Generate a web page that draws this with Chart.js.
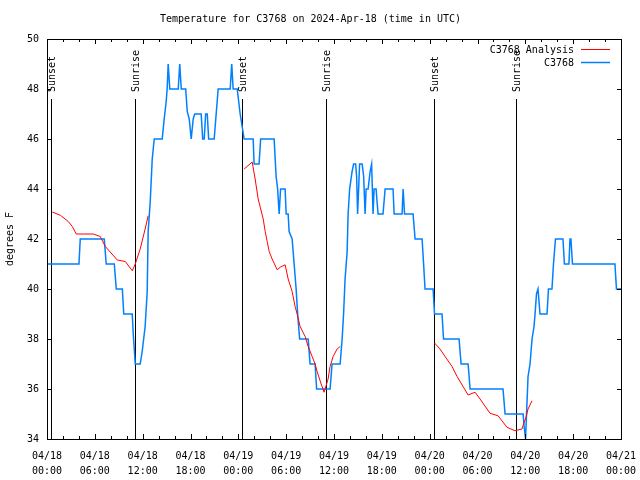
<!DOCTYPE html>
<html>
<head>
<meta charset="utf-8">
<script src="https://cdn.jsdelivr.net/npm/chart.js@4.4.1/dist/chart.umd.min.js"></script>
<style>
  html, body { margin: 0; padding: 0; background: #fff; }
  #wrap { width: 640px; height: 480px; }
</style>
</head>
<body>
<div id="wrap"><canvas id="c" width="640" height="480"></canvas></div>
<script>
// hours since 04/18 00:00 UTC
const obsHours = [0, 4.01, 4.17, 7.18, 7.43, 8.44, 8.69, 9.45, 9.63, 10.69, 10.82, 11.07, 11.69, 11.94, 12.31, 12.57, 12.69, 12.95, 13.2, 13.45,
  14.45, 14.7, 14.95, 15.07, 15.2, 15.4, 16.46, 16.65, 16.84, 17.4, 17.59, 17.84, 18.09, 18.34, 18.53, 19.34, 19.53, 19.72, 19.9, 20.1,
  20.28, 20.97, 21.22, 21.47, 22.98, 23.17, 23.35, 23.86, 24.23, 24.48, 24.73, 25.86, 25.98, 26.6, 26.8, 28.49, 28.74, 28.93, 29.12, 29.3,
  29.87, 30.0, 30.25, 30.37, 30.75, 31.0, 31.25, 31.44, 31.69, 32.76, 33.0, 33.63, 33.82, 35.51, 35.76, 36.77, 37.02, 37.2, 37.39, 37.65,
  37.77, 37.96, 38.27, 38.46, 38.71, 38.84, 38.96, 39.09, 39.21, 39.53, 39.72, 39.9, 40.03, 40.28, 40.53, 40.72, 40.9, 41.03, 41.28, 41.4,
  41.53, 42.15, 42.41, 43.41, 43.54, 44.54, 44.67, 44.85, 45.92, 46.17, 47.05, 47.24, 47.42, 48.43, 48.61, 49.55, 49.74, 51.69, 51.94, 52.82,
  53.07, 57.2, 57.46, 59.72, 59.85, 60.03, 60.15, 60.34, 60.59, 60.84, 61.09, 61.22, 61.4, 61.59, 61.71, 61.84, 62.72, 62.9, 63.34, 63.53,
  63.78, 64.72, 64.9, 65.47, 65.6, 65.72, 65.91, 71.24, 71.43, 72];
const obsTemps = [41, 41, 42, 42, 41, 41, 40, 40, 39, 39, 38.2, 37, 37, 37.5, 38.5, 39.9, 42.3, 43.5, 45.2, 46,
  46, 46.8, 47.5, 48, 49, 48, 48, 49, 48, 48, 47.1, 46.8, 46, 46.8, 47, 47, 46, 46, 47, 47,
  46, 46, 47, 48, 48, 49, 48, 48, 47, 46.5, 46, 46, 45, 45, 46, 46, 44.5, 44, 43, 44,
  44, 43, 43, 42.3, 42, 41, 40, 39, 38, 38, 37, 37, 36, 36, 37, 37, 38, 39, 40.4, 41.5,
  43, 44, 44.7, 45, 45, 44.5, 43, 44, 45, 45, 44.5, 43, 44, 44, 44.7, 45, 43, 44, 44, 43.5,
  43, 43, 44, 44, 43, 43, 44, 43, 43, 42, 42, 41, 40, 40, 39, 39, 38, 38, 37, 37,
  36, 36, 35, 35, 34.5, 34, 35, 36.5, 37, 38, 38.5, 39, 39.8, 40, 40, 39, 39, 40, 40, 41,
  42, 42, 41, 41, 42, 42, 41, 41, 40, 40];

// analysis series, null = no analysis
const anaHours = [0.66, 1.67, 2.67, 3.17, 3.67, 5.8, 6.68, 7.31, 8.82, 9.82, 10.7, 11.07, 11.69, 12.31, 12.69, 18,
  24.73, 25.74, 26.11, 26.49, 27.12, 27.37, 27.62, 27.87, 28.24, 28.87, 29.25, 29.87, 30.25, 30.75, 31.12, 31.38, 31.75,
  32.38, 32.76, 33.26, 33.63, 33.88, 34.39, 34.76, 35.26, 35.51, 35.89, 36.39, 36.77, 42,
  48.61, 49.3, 49.93, 50.81, 51.44, 52.19, 52.82, 53.69, 54.32, 55.57, 56.57, 57.7, 58.7, 59.58, 59.7, 60.08, 60.34, 60.84];
const anaTemps = [43.08, 42.95, 42.7, 42.5, 42.2, 42.2, 42.1, 41.7, 41.16, 41.1, 40.73, 41.0, 41.6, 42.4, 42.93, null,
  44.8, 45.08, 44.4, 43.6, 42.8, 42.3, 41.9, 41.5, 41.2, 40.77, 40.87, 40.97, 40.4, 39.9, 39.3, 39.0, 38.5,
  38.1, 37.7, 37.3, 37.0, 36.7, 36.2, 35.87, 36.4, 36.9, 37.3, 37.6, 37.7, null,
  37.84, 37.6, 37.3, 36.9, 36.5, 36.1, 35.76, 35.87, 35.6, 35.03, 34.93, 34.47, 34.33, 34.4, 34.53, 34.87, 35.2, 35.53];

const sunHours = [0.48, 10.98, 24.52, 34.97, 48.59, 58.87];
const sunLabels = ['Sunset', 'Sunrise', 'Sunset', 'Sunrise', 'Sunset', 'Sunrise'];

const xTickDates = ['04/18', '04/18', '04/18', '04/18', '04/19', '04/19', '04/19', '04/19', '04/20', '04/20', '04/20', '04/20', '04/21'];
const xTickTimes = ['00:00', '06:00', '12:00', '18:00', '00:00', '06:00', '12:00', '18:00', '00:00', '06:00', '12:00', '18:00', '00:00'];

const FONT = 'DejaVu Sans Mono';
Chart.defaults.font.family = FONT;
Chart.defaults.font.size = 10;
Chart.defaults.color = '#000';

// gnuplot-ish frame, inward ticks, sunrise/sunset markers, legend
const gnuDeco = {
  id: 'gnuDeco',
  beforeDatasetsDraw(chart) {
    const { ctx, chartArea: a, scales: { x } } = chart;
    ctx.save();
    ctx.strokeStyle = '#000';
    ctx.lineWidth = 1;
    ctx.fillStyle = '#000';
    ctx.font = '10px ' + FONT;
    sunHours.forEach((h, i) => {
      const px = Math.round(x.getPixelForValue(h)) + 0.5;
      ctx.beginPath();
      ctx.moveTo(px, a.top + 60);
      ctx.lineTo(px, a.bottom);
      ctx.stroke();
      ctx.save();
      ctx.translate(px + 1, a.top + 53);
      ctx.rotate(-Math.PI / 2);
      ctx.textAlign = 'left';
      ctx.textBaseline = 'middle';
      ctx.fillText(sunLabels[i], 0, 0);
      ctx.restore();
    });
    ctx.restore();
  },
  afterDatasetsDraw(chart) {
    const { ctx, chartArea: a, scales: { x, y } } = chart;
    ctx.save();
    ctx.strokeStyle = '#000';
    ctx.lineWidth = 1;
    ctx.strokeRect(Math.round(a.left) + 0.5, Math.round(a.top) + 0.5, Math.round(a.width), Math.round(a.height));
    ctx.beginPath();
    for (let h = 0; h <= 72; h += 2) {
      const px = Math.round(x.getPixelForValue(h)) + 0.5;
      const len = h % 6 === 0 ? 5 : 3;
      ctx.moveTo(px, a.bottom); ctx.lineTo(px, a.bottom - len);
      ctx.moveTo(px, a.top); ctx.lineTo(px, a.top + len);
    }
    y.ticks.forEach(t => {
      const py = Math.round(y.getPixelForValue(t.value)) + 0.5;
      ctx.moveTo(a.left, py); ctx.lineTo(a.left + 4, py);
      ctx.moveTo(a.right, py); ctx.lineTo(a.right - 4, py);
    });
    ctx.stroke();

    // legend, top right inside plot
    ctx.font = '10px ' + FONT;
    ctx.textAlign = 'right';
    ctx.textBaseline = 'middle';
    chart.data.datasets.forEach((ds, i) => {
      const ly = a.top + 10.5 + i * 13;
      ctx.fillStyle = '#000';
      ctx.fillText(ds.label, a.right - 47, ly + 0.5);
      ctx.strokeStyle = ds.borderColor;
      ctx.lineWidth = ds.borderWidth;
      ctx.beginPath();
      ctx.moveTo(a.right - 40, ly);
      ctx.lineTo(a.right - 11, ly);
      ctx.stroke();
    });
    ctx.restore();
  }
};

new Chart(document.getElementById('c'), {
  type: 'line',
  data: {
    datasets: [
      {
        label: 'C3768 Analysis',
        data: anaHours.map((h, i) => ({ x: h, y: anaTemps[i] })),
        borderColor: 'rgb(255,0,0)',
        borderWidth: 1,
        pointRadius: 0,
        spanGaps: false,
        tension: 0
      },
      {
        label: 'C3768',
        data: obsHours.map((h, i) => ({ x: h, y: obsTemps[i] })),
        borderColor: 'rgb(0,128,255)',
        borderWidth: 1.5,
        pointRadius: 0,
        tension: 0
      }
    ]
  },
  options: {
    responsive: false,
    animation: false,
    layout: { padding: { left: 0, right: 19, top: 0, bottom: 0 } },
    plugins: {
      legend: { display: false },
      tooltip: { enabled: false },
      title: {
        display: true,
        text: 'Temperature for C3768 on 2024-Apr-18 (time in UTC)',
        font: { family: FONT, size: 10, weight: 'normal', lineHeight: 1.2 },
        color: '#000',
        padding: { top: 13, bottom: 14 }
      }
    },
    scales: {
      x: {
        type: 'linear',
        min: 0,
        max: 72,
        grid: { display: false, drawTicks: false },
        border: { display: false },
        afterFit: s => { s.height = 41; s.paddingLeft = 0; s.paddingRight = 0; },
        ticks: {
          stepSize: 6,
          autoSkip: false,
          maxRotation: 0,
          padding: 10,
          font: { size: 10, lineHeight: 1.5 },
          callback: v => [xTickDates[v / 6], xTickTimes[v / 6]]
        }
      },
      y: {
        min: 34,
        max: 50,
        grid: { display: false, drawTicks: false },
        border: { display: false },
        afterFit: s => { s.width = 47; },
        title: { display: true, text: 'degrees F', font: { size: 10 }, padding: { top: 4, bottom: 4 } },
        ticks: { stepSize: 2, padding: 8 }
      }
    }
  },
  plugins: [gnuDeco]
});
</script>
</body>
</html>
